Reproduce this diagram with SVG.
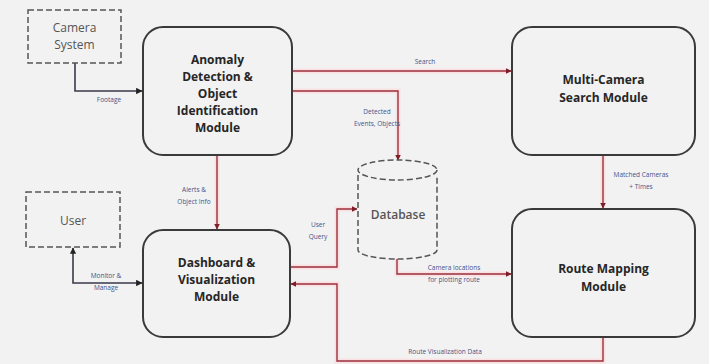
<svg xmlns="http://www.w3.org/2000/svg" width="709" height="364" viewBox="0 0 709 364">
<style>
.bg{fill:#f2f2f2}
.mod{fill:#f2f2f2;stroke:#3a3a3a;stroke-width:2}
.ext{fill:#f2f2f2;stroke:#555;stroke-width:1.5;stroke-dasharray:6 3}
.t{font-family:"Open Sans","Liberation Sans",sans-serif;font-weight:bold;font-size:12px;fill:#262626;text-anchor:middle}
.te{font-family:"Open Sans","Liberation Sans",sans-serif;font-size:12px;fill:#555;text-anchor:middle}
.lbl{font-family:"Open Sans","Liberation Sans",sans-serif;font-size:6.5px;fill:#44548a;text-anchor:middle}
.halo{fill:none;stroke:#fae0e2;stroke-width:5}
.red{fill:none;stroke:#9b2f3c;stroke-width:1.4}
.blk{fill:none;stroke:#3a3a4a;stroke-width:1.6}
</style>
<defs>
<marker id="ar" viewBox="0 0 6 6" refX="5.5" refY="3" markerWidth="4" markerHeight="4" orient="auto-start-reverse"><path d="M0,0L6,3L0,6z" fill="#7a1f2a"/></marker>
<marker id="ab" viewBox="0 0 6 6" refX="5.5" refY="3" markerWidth="4" markerHeight="4" orient="auto-start-reverse"><path d="M0,0L6,3L0,6z" fill="#222"/></marker>
</defs>
<rect class="bg" x="0" y="0" width="709" height="364"/>
<g id="connectors">
<path class="halo" d="M292,71H510"/>
<path class="halo" d="M292,91H398V158"/>
<path class="halo" d="M217,155V228"/>
<path class="halo" d="M603,155V207"/>
<path class="halo" d="M290,267H337V209H356"/>
<path class="halo" d="M397,258V274H510"/>
<path class="halo" d="M603,337V361H337V284H292"/>
<path class="red" d="M292,71H511" marker-end="url(#ar)"/>
<path class="red" d="M292,91H398V160" marker-end="url(#ar)"/>
<path class="red" d="M217,155V229" marker-end="url(#ar)"/>
<path class="red" d="M603,155V208" marker-end="url(#ar)"/>
<path class="red" d="M290,267H337V209H357" marker-end="url(#ar)"/>
<path class="red" d="M397,258V274H511" marker-end="url(#ar)"/>
<path class="red" d="M603,337V361H337V284H291" marker-end="url(#ar)"/>
<path class="blk" d="M75,63V91H142" marker-end="url(#ab)"/>
<path class="blk" d="M142,283H73V248" marker-start="url(#ab)" marker-end="url(#ab)"/>
<text class="lbl" x="109" y="102">Footage</text>
<text class="lbl" x="425" y="64">Search</text>
<text class="lbl" x="377" y="114">Detected</text>
<text class="lbl" x="377" y="126">Events, Objects</text>
<text class="lbl" x="194" y="192">Alerts &amp;</text>
<text class="lbl" x="194" y="204">Object Info</text>
<text class="lbl" x="641" y="177">Matched Cameras</text>
<text class="lbl" x="641" y="189">+ Times</text>
<text class="lbl" x="318" y="227">User</text>
<text class="lbl" x="318" y="239">Query</text>
<text class="lbl" x="454" y="270">Camera locations</text>
<text class="lbl" x="454" y="282">for plotting route</text>
<text class="lbl" x="445" y="354">Route Visualization Data</text>
<text class="lbl" x="106" y="278">Monitor &amp;</text>
<text class="lbl" x="106" y="290">Manage</text>
</g>
<g id="camera">
<rect class="ext" x="28" y="10" width="93" height="53"/>
<text class="te" x="74.5" y="32">Camera</text>
<text class="te" x="74.5" y="49">System</text>
</g>
<g id="anomaly">
<rect class="mod" x="143" y="27" width="149" height="128" rx="20"/>
<text class="t" x="217.5" y="64">Anomaly</text>
<text class="t" x="217.5" y="81">Detection &amp;</text>
<text class="t" x="217.5" y="98">Object</text>
<text class="t" x="217.5" y="115">Identification</text>
<text class="t" x="217.5" y="132">Module</text>
</g>
<g id="multicamera">
<rect class="mod" x="512" y="27" width="183" height="128" rx="20"/>
<text class="t" x="603.5" y="84">Multi-Camera</text>
<text class="t" x="603.5" y="102">Search Module</text>
</g>
<g id="database">
<path class="ext" d="M358,175V250A39.5,9 0 0 0 437,250V175"/>
<ellipse class="ext" cx="397.5" cy="170" rx="39.5" ry="10"/>
<text class="te" x="398" y="219" font-weight="600">Database</text>
</g>
<g id="user">
<rect class="ext" x="26" y="192" width="94" height="55"/>
<text class="te" x="73" y="225">User</text>
</g>
<g id="dashboard">
<rect class="mod" x="143" y="230" width="147" height="107" rx="20"/>
<text class="t" x="216.5" y="267">Dashboard &amp;</text>
<text class="t" x="216.5" y="284">Visualization</text>
<text class="t" x="216.5" y="301">Module</text>
</g>
<g id="route">
<rect class="mod" x="512" y="209" width="183" height="128" rx="20"/>
<text class="t" x="603.5" y="273">Route Mapping</text>
<text class="t" x="603.5" y="291">Module</text>
</g>
</svg>
